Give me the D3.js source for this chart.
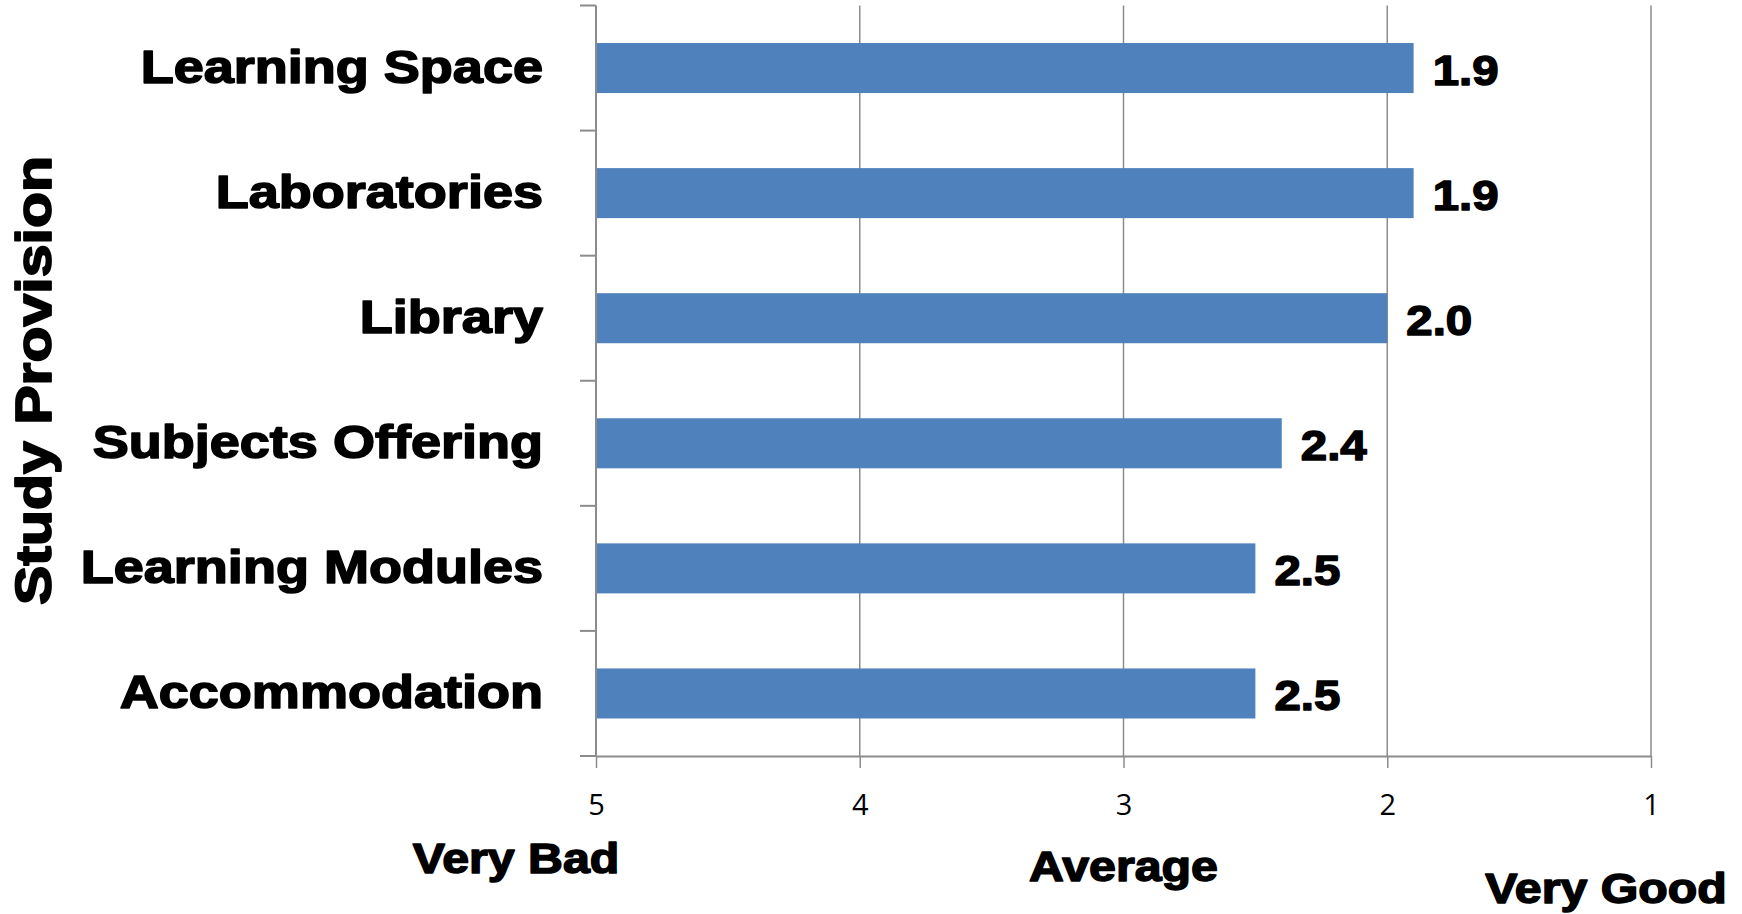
<!DOCTYPE html>
<html>
<head>
<meta charset="utf-8">
<script src="https://cdn.jsdelivr.net/npm/d3@7"></script>
<style>
	body { margin: 0; background: #fff; }
	.heavy { font-family: "Liberation Sans", Arial, sans-serif; font-weight: bold; fill: #000; stroke: #000; stroke-linejoin: round; }
	.tick text { font-family: "Open Sans", sans-serif; font-size: 29px; fill: #000; }
</style>
</head>
<body>
<svg></svg>
<script>
// study provision ratings (1 = very good, 5 = very bad)
var categories = ["Learning Space", "Laboratories", "Library", "Subjects Offering", "Learning Modules", "Accommodation"];
var scores = [1.9, 1.9, 2.0, 2.4, 2.5, 2.5];
var xTicks = [5, 4, 3, 2, 1];
var scaleNames = ["Very Bad", "Average", "Very Good"];
var yTitle = "Study Provision";

var margin = {
		top: 5.5,
		right: 91,
		bottom: 158,
		left: 596
	},
	width = 1742 - margin.left - margin.right,
	height = 914 - margin.top - margin.bottom;

var svg = d3.select("svg")
	.attr("width", 1742)
	.attr("height", 914);

var g = svg.append("g")
	.attr("transform", "translate(" + margin.left + "," + margin.top + ")");

var data = categories.map(function(c, i) {
	return { name: c, score: scores[i] };
});

// scales
var scaleX = d3.scaleLinear()
	.domain([5, 1])
	.range([0, width]);

var scaleY = d3.scaleBand()
	.domain(categories)
	.range([0, height])
	.paddingInner(0.6)
	.paddingOuter(0.3);

var grey = "#8c8c8c";

// gridlines
g.selectAll("line.grid")
	.data(xTicks.slice(1))
	.enter()
	.append("line")
	.attr("class", "grid")
	.attr("x1", function(d) { return scaleX(d); })
	.attr("x2", function(d) { return scaleX(d); })
	.attr("y1", 0)
	.attr("y2", height)
	.attr("stroke", grey)
	.attr("stroke-width", 1.5);

// bars
g.selectAll("rect")
	.data(data)
	.enter()
	.append("rect")
	.attr("x", scaleX(5))
	.attr("y", function(d) { return scaleY(d.name); })
	.attr("width", function(d) { return scaleX(d.score) - scaleX(5); })
	.attr("height", scaleY.bandwidth())
	.attr("fill", "#4f81bd");

// x axis
var xAxis = g.append("g")
	.attr("transform", "translate(0," + height + ")")
	.call(d3.axisBottom(scaleX).tickValues(xTicks).tickFormat(d3.format("d")).tickSize(12).tickSizeOuter(0));
xAxis.select(".domain").attr("stroke", grey).attr("stroke-width", 2);
xAxis.selectAll(".tick line").attr("stroke", grey).attr("stroke-width", 1.5);
xAxis.selectAll(".tick text").attr("y", 59).attr("dy", 0);

// y axis line and band boundary ticks
g.append("line")
	.attr("x1", 0).attr("x2", 0)
	.attr("y1", 0).attr("y2", height)
	.attr("stroke", grey)
	.attr("stroke-width", 2);

var bounds = d3.range(categories.length + 1).map(function(i) {
	return scaleY.range()[0] + i * scaleY.step();
});
g.selectAll("line.ytick")
	.data(bounds)
	.enter()
	.append("line")
	.attr("class", "ytick")
	.attr("x1", -16).attr("x2", 0)
	.attr("y1", function(d) { return d; })
	.attr("y2", function(d) { return d; })
	.attr("stroke", grey)
	.attr("stroke-width", 2);

// category labels
g.selectAll("g.cat")
	.data(data)
	.enter()
	.append("g")
	.attr("class", "cat")
	.attr("transform", function(d) {
		return "translate(-53," + (scaleY(d.name) + scaleY.bandwidth() / 2 + 14.5) + ") scale(1.15,1)";
	})
	.append("text")
	.attr("class", "heavy")
	.attr("text-anchor", "end")
	.style("font-size", "47px")
	.style("stroke-width", "1.6px")
	.text(function(d) { return d.name; });

// value labels
g.selectAll("g.val")
	.data(data)
	.enter()
	.append("g")
	.attr("class", "val")
	.attr("transform", function(d) {
		return "translate(" + (scaleX(d.score) + 19) + "," + (scaleY(d.name) + scaleY.bandwidth() / 2 + 16.5) + ") scale(1.13,1)";
	})
	.append("text")
	.attr("class", "heavy")
	.style("font-size", "42px")
	.style("stroke-width", "1.5px")
	.text(function(d) { return d3.format(".1f")(d.score); });

// scale names under the axis
var namePos = [
	{ x: margin.left + scaleX(5) - 80, y: 873 },
	{ x: margin.left + scaleX(3), y: 881 },
	{ x: margin.left + scaleX(1) - 45, y: 903 }
];
svg.selectAll("g.scale")
	.data(scaleNames)
	.enter()
	.append("g")
	.attr("class", "scale")
	.attr("transform", function(d, i) {
		return "translate(" + namePos[i].x + "," + namePos[i].y + ") scale(1.15,1)";
	})
	.append("text")
	.attr("class", "heavy")
	.attr("text-anchor", "middle")
	.style("font-size", "42px")
	.style("stroke-width", "1.5px")
	.text(function(d) { return d; });

// y axis title
svg.append("g")
	.attr("transform", "translate(51," + (margin.top + 375) + ") rotate(-90) scale(1.18,1)")
	.append("text")
	.attr("class", "heavy")
	.attr("text-anchor", "middle")
	.style("font-size", "50px")
	.style("stroke-width", "1.8px")
	.text(yTitle);
</script>
</body>
</html>
